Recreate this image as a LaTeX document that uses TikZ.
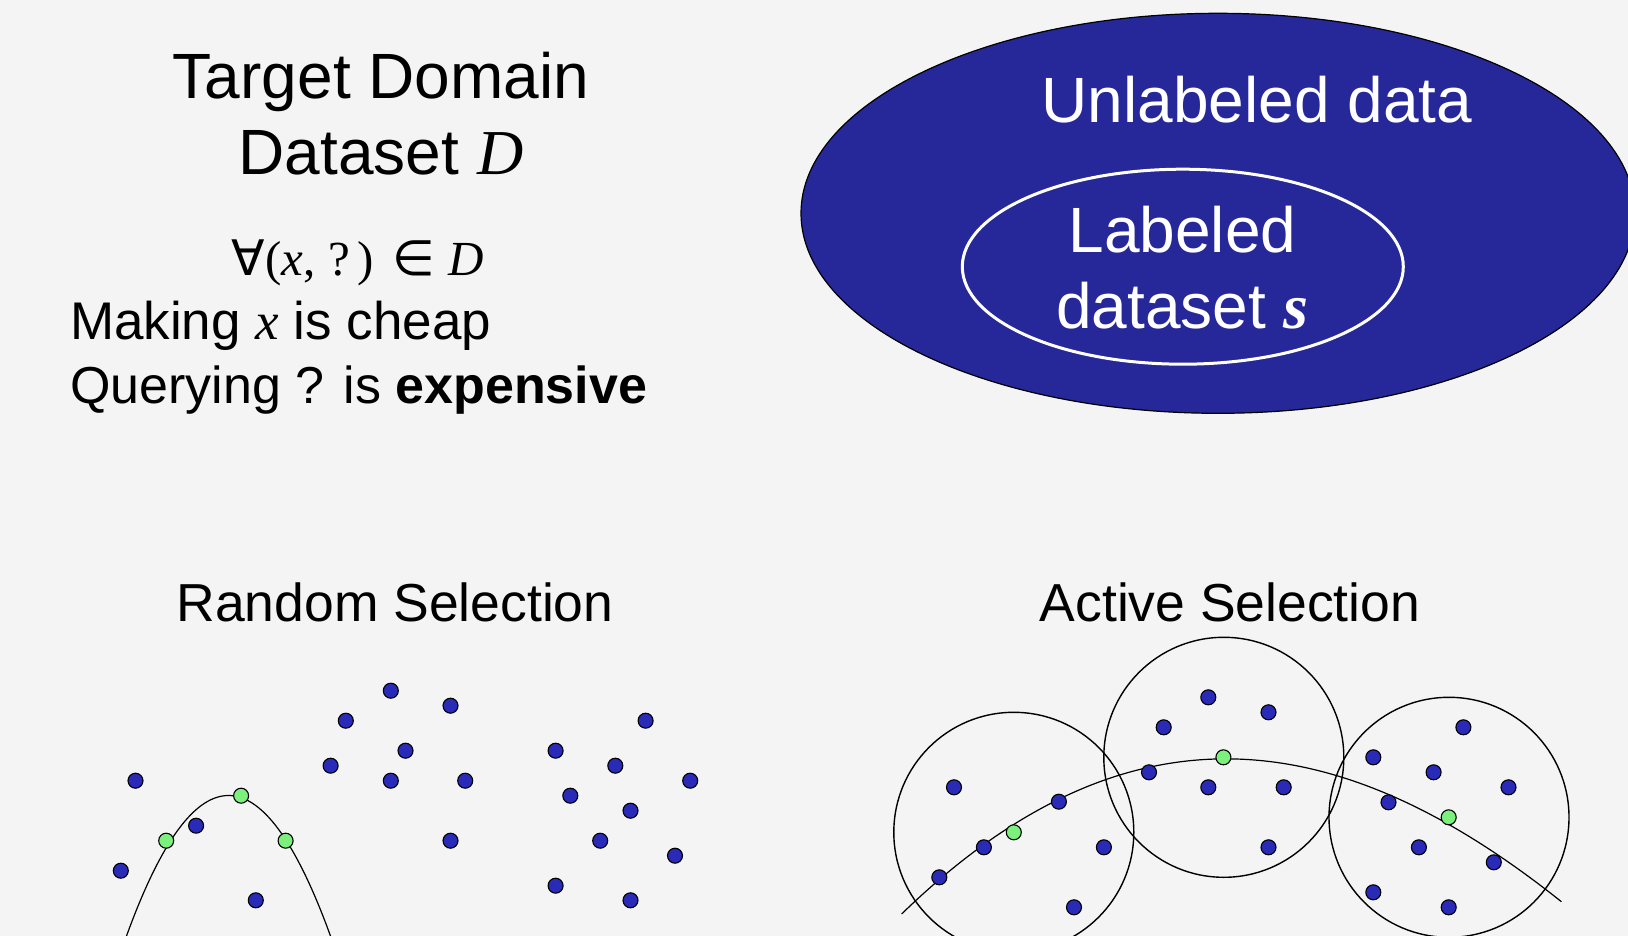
\documentclass[tikz,border=0pt]{standalone}
\usepackage{fontspec}
\setmainfont{Liberation Sans}
\newfontfamily\mserif{Liberation Serif}
\newfontfamily\msym{DejaVu Sans}
\usetikzlibrary{shapes.geometric}

\definecolor{bgray}{HTML}{F4F4F4}
\definecolor{setblue}{HTML}{26289A}
\definecolor{dotblue}{HTML}{2A2AB8}
\definecolor{dotgreen}{HTML}{7CF07C}

\tikzset{
  txt/.style={inner sep=0pt, outer sep=0pt},
  bigtxt/.style={txt, font=\fontsize{64}{70}\selectfont},
  midtxt/.style={txt, font=\fontsize{53.5}{60}\selectfont},
  bodytxt/.style={txt, font=\fontsize{53}{60}\selectfont},
  dotnode/.style={circle, inner sep=0pt, minimum size=15pt, draw=black, line width=1.1pt},
  bdot/.style={dotnode, fill=dotblue},
  gdot/.style={dotnode, fill=dotgreen},
  region/.style={draw=black, line width=1.4pt},
}

\begin{document}
\begin{tikzpicture}[x=1pt, y=-1pt]
  % canvas
  \fill[bgray] (0,0) rectangle (1628,936);
  \useasboundingbox (0,0) rectangle (1628,936);

  % --- dataset description (left) ---
  \node[bigtxt, anchor=base] (title1) at (381,98.3) {Target Domain};
  \node[bigtxt, anchor=base] (title2) at (381,175) {Dataset {\mserif\itshape D}};
  \node[txt, anchor=base, font=\fontsize{49}{52}\selectfont] (forall) at (358,275)
    {{\msym ∀}{\mserif(\itshape x\upshape, ?\,)} {\msym ∈} {\mserif\itshape D}};
  \node[bodytxt, anchor=base west] (cheap) at (70,339.3)
    {Making {\mserif\itshape x} is cheap};
  \node[bodytxt, anchor=base west, font=\fontsize{52}{60}\selectfont] (costly) at (70,403.3)
    {Querying ? is \textbf{expensive}};

  % --- unlabeled / labeled sets (right) ---
  \fill[setblue] (1218,213.3) ellipse [x radius=417, y radius=200];
  \draw[black, line width=1.2pt] (1218,213.3) ellipse [x radius=417, y radius=200];
  \draw[white, line width=3pt] (1182.8,266.7) ellipse [x radius=220.5, y radius=97.5];
  \node[bigtxt, text=white, anchor=base] (unl) at (1257,122.7) {Unlabeled data};
  \node[bigtxt, text=white, anchor=base] (lab1) at (1182.5,252.3) {Labeled};
  \node[bigtxt, text=white, anchor=base] (lab2) at (1182.5,328.3)
    {dataset {\mserif\bfseries\itshape s}};

  % --- section headings ---
  \node[midtxt, anchor=base] (rsel) at (395,621.7) {Random Selection};
  \node[midtxt, anchor=base] (asel) at (1230,621.7) {Active Selection};

  % --- random selection: boundary and samples ---
  \draw[black, line width=1.2pt] plot[domain=118:340, samples=80]
    (\x, {795.5 + 0.0135*(\x-228.5)*(\x-228.5)});
  \foreach \px/\py [count=\i] in {
      135.5/780.7, 120.8/870.7, 196.1/825.7, 255.8/900.3,
      345.8/720.7, 390.8/690.7, 450.5/705.7, 405.5/750.7,
      330.6/765.7, 390.8/780.7, 465.2/780.7, 450.5/840.7,
      645.6/720.7, 555.6/750.7, 615.3/765.7, 690.2/780.7,
      570.3/795.7, 630.5/810.7, 600.2/840.7, 675.0/855.7,
      555.6/885.7, 630.5/900.3}
    \node[bdot] (rb\i) at (\px,\py) {};
  \foreach \px/\py [count=\i] in {166.2/840.7, 241.1/795.7, 285.6/840.7}
    \node[gdot] (rg\i) at (\px,\py) {};

  % --- active selection: clusters, boundary and samples ---
  \draw[region] (1013.8,832.3) circle [radius=120];
  \draw[region] (1223.8,757.3) circle [radius=120];
  \draw[region] (1449,817.3) circle [radius=120];
  \coordinate (bstart) at (901.6,914);
  \coordinate (bend) at (1561.4,901.7);
  \draw[black, line width=1.2pt] (bstart)
    .. controls (1130.6,691.9) and (1342,726.8) .. (bend);
  \foreach \px/\py [count=\i] in {
      954.0/787.3, 1058.9/801.7, 983.9/847.3, 939.3/877.3,
      1103.9/847.3, 1074.0/907.3,
      1208.3/697.3, 1268.5/712.3, 1163.7/727.3, 1149.0/772.3,
      1208.3/787.3, 1283.7/787.3, 1268.5/847.3,
      1463.4/727.3, 1373.3/757.3, 1433.6/772.3, 1508.5/787.3,
      1388.5/802.3, 1418.9/847.3, 1493.8/862.3, 1373.3/892.3,
      1448.7/907.3}
    \node[bdot] (ab\i) at (\px,\py) {};
  \foreach \px/\py [count=\i] in {1013.8/832.3, 1223.4/757.3, 1448.7/817.3}
    \node[gdot] (ag\i) at (\px,\py) {};
\end{tikzpicture}
\end{document}
